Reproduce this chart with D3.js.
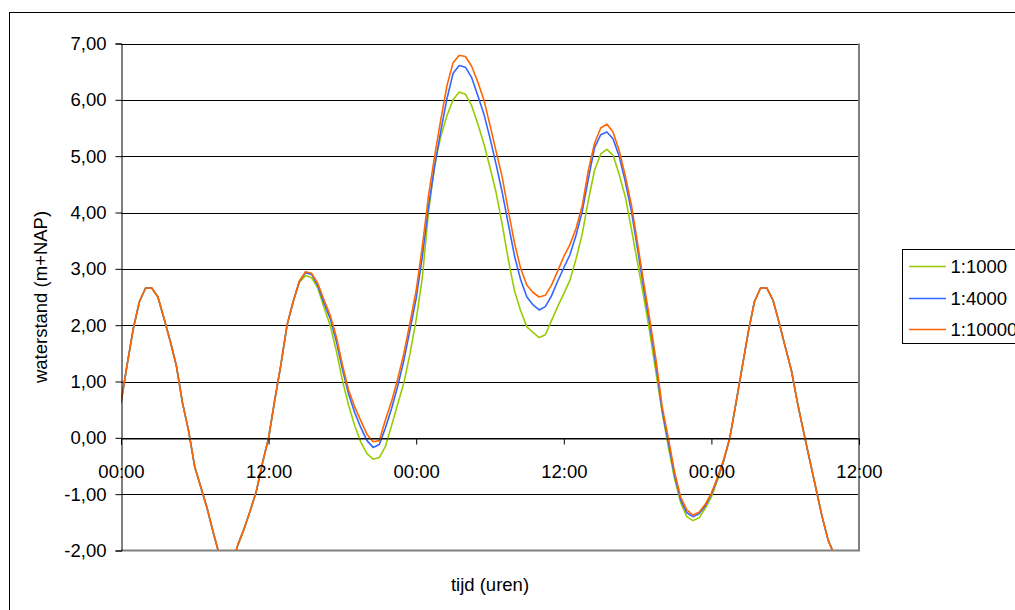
<!DOCTYPE html>
<html><head><meta charset="utf-8">
<script src="https://cdn.jsdelivr.net/npm/d3@7"></script>
<style>body{margin:0;background:#fff;overflow:hidden} svg{display:block}</style>
</head><body><svg id="c" width="1015" height="610"></svg>
<script>
// ---- data ----
const hours = [0,0.5,1,1.5,2,2.5,3,3.5,4,4.5,5,5.5,6,6.5,7,7.5,8,8.5,9,9.5,10,10.5,11,11.5,12,12.5,13,13.5,14,14.5,
15,15.5,16,16.5,17,17.5,18,18.5,19,19.5,20,20.5,21,21.5,22,22.5,23,23.5,24,24.5,25,25.5,26,26.5,27,27.5,28,28.5,29,29.5,
30,30.5,31,31.5,32,32.5,33,33.5,34,34.5,35,35.5,36,36.5,37,37.5,38,38.5,39,39.5,40,40.5,41,41.5,42,42.5,43,43.5,44,44.5,
45,45.5,46,46.5,47,47.5,48,48.5,49,49.5,50,50.5,51,51.5,52,52.5,53,53.5,54,54.5,55,55.5,56,56.5,57,57.5,58,58.5];

const seriesNames = ["1:1000","1:4000","1:10000"];

const s1000 = [0.62,1.30,1.94,2.42,2.66,2.66,2.50,2.12,1.72,1.28,0.62,0.12,-0.52,-0.88,-1.25,-1.68,-2.08,-2.30,-2.25,-1.90,-1.62,-1.30,-0.95,-0.45,0.00,0.67,1.30,2.00,2.42,2.76,
2.88,2.84,2.66,2.32,2.00,1.55,1.02,0.58,0.22,-0.08,-0.28,-0.38,-0.35,-0.15,0.22,0.60,0.98,1.50,2.10,2.85,4.00,4.85,5.35,5.72,6.00,6.14,6.10,5.90,5.58,5.22,
4.80,4.35,3.78,3.15,2.60,2.25,1.97,1.87,1.78,1.83,2.08,2.33,2.56,2.80,3.18,3.62,4.22,4.75,5.04,5.12,5.02,4.68,4.28,3.70,3.10,2.50,1.86,1.15,0.45,-0.16,
-0.72,-1.15,-1.40,-1.47,-1.42,-1.25,-1.05,-0.75,-0.42,0.00,0.62,1.25,1.88,2.42,2.66,2.66,2.45,2.05,1.62,1.20,0.62,0.10,-0.40,-0.90,-1.40,-1.82,-2.08,-2.30];

const s4000 = [0.62,1.30,1.94,2.42,2.66,2.66,2.50,2.12,1.72,1.28,0.62,0.12,-0.52,-0.88,-1.25,-1.68,-2.08,-2.30,-2.25,-1.90,-1.62,-1.30,-0.95,-0.45,0.00,0.67,1.30,2.00,2.42,2.78,
2.93,2.90,2.70,2.40,2.12,1.72,1.22,0.78,0.45,0.18,-0.05,-0.17,-0.12,0.18,0.52,0.92,1.38,1.92,2.48,3.22,4.10,4.82,5.45,6.02,6.47,6.61,6.58,6.40,6.08,5.75,
5.32,4.85,4.35,3.78,3.22,2.80,2.50,2.36,2.27,2.33,2.52,2.78,3.02,3.25,3.60,4.02,4.60,5.15,5.38,5.43,5.31,5.00,4.55,4.02,3.35,2.65,2.00,1.28,0.48,-0.08,
-0.66,-1.10,-1.33,-1.40,-1.35,-1.21,-1.00,-0.72,-0.40,0.00,0.62,1.25,1.88,2.42,2.66,2.66,2.45,2.05,1.62,1.20,0.62,0.10,-0.40,-0.90,-1.40,-1.82,-2.08,-2.30];

const s10000 = [0.62,1.30,1.94,2.42,2.66,2.66,2.50,2.12,1.72,1.28,0.62,0.12,-0.52,-0.88,-1.25,-1.68,-2.08,-2.30,-2.25,-1.90,-1.62,-1.30,-0.95,-0.45,0.00,0.67,1.30,2.00,2.42,2.78,
2.95,2.92,2.74,2.45,2.18,1.80,1.30,0.85,0.55,0.30,0.06,-0.07,-0.05,0.32,0.65,1.05,1.50,2.05,2.62,3.40,4.30,5.00,5.65,6.25,6.66,6.79,6.77,6.60,6.32,6.00,
5.55,5.08,4.62,4.02,3.45,3.00,2.71,2.58,2.50,2.53,2.71,2.96,3.22,3.43,3.72,4.12,4.75,5.23,5.50,5.57,5.43,5.10,4.65,4.13,3.45,2.75,2.09,1.38,0.55,0.00,
-0.60,-1.05,-1.28,-1.37,-1.32,-1.18,-0.98,-0.70,-0.38,0.00,0.62,1.25,1.88,2.42,2.66,2.66,2.45,2.05,1.62,1.20,0.62,0.10,-0.40,-0.90,-1.40,-1.82,-2.08,-2.30];

const yTicks = [-2,-1,0,1,2,3,4,5,6,7];
const xTicks = [0,12,24,36,48,60];
const xTickLabels = ["00:00","12:00","00:00","12:00","00:00","12:00"];
const colors = ["#99CC00","#3366FF","#FF6600"];
const yTitle = "waterstand (m+NAP)";
const xTitle = "tijd (uren)";

// ---- layout ----
const FONT = "'Liberation Sans', Arial, sans-serif";
const FS = 18.5;
const L = 121, R = 859, T = 43.5, B = 550.5;
const svg = d3.select("#c");
const x = d3.scaleLinear().domain([0, 60]).range([L, R]);
const y = d3.scaleLinear().domain([-2, 7]).range([B, T]);
const loc = d3.formatLocale({decimal: ",", thousands: ".", grouping: [3], currency: ["", ""], minus: "-"});
const fmt = loc.format(".2f");

// outer chart frame
svg.append("rect").attr("x", 9.5).attr("y", 12.5).attr("width", 1100).attr("height", 700)
  .attr("fill", "#fff").attr("stroke", "#000").attr("stroke-width", 1);

// plot area
svg.append("rect").attr("x", L).attr("y", T).attr("width", R - L).attr("height", B - T)
  .attr("fill", "#fff");

// gridlines
svg.append("g").selectAll("line").data(yTicks.filter(d => d !== -2)).join("line")
  .attr("x1", L).attr("x2", R)
  .attr("y1", d => Math.round(y(d)) + 0.5).attr("y2", d => Math.round(y(d)) + 0.5)
  .attr("stroke", "#000").attr("stroke-width", 1);

// plot border (right & bottom grey)
svg.append("path")
  .attr("d", `M${R},${T} L${R},${B} L${L},${B}`)
  .attr("fill", "none").attr("stroke", "#808080").attr("stroke-width", 2);

// series
svg.append("defs").append("clipPath").attr("id", "clip")
  .append("rect").attr("x", L).attr("y", T - 1).attr("width", R - L).attr("height", B - T + 1);
const line = d3.line().x((d, i) => x(hours[i])).y(d => y(d));
const allSeries = [s1000, s4000, s10000];
svg.append("g").attr("clip-path", "url(#clip)").selectAll("path").data(allSeries).join("path")
  .attr("d", d => line(d)).attr("fill", "none")
  .attr("stroke", (d, i) => colors[i]).attr("stroke-width", 1.6).attr("stroke-linejoin", "round");

// y axis
const yAxis = d3.axisLeft(y).tickValues(yTicks).tickSize(6).tickPadding(9).tickFormat(d => fmt(d));
const gy = svg.append("g").attr("transform", `translate(${L + 0.5},0)`).call(yAxis);
gy.select(".domain").attr("stroke", "#000");
gy.selectAll(".tick line").attr("stroke", "#000");
gy.selectAll(".tick text").attr("font-family", FONT).attr("font-size", FS).attr("fill", "#000");

// x axis at y = 0
const xAxis = d3.axisBottom(x).tickValues(xTicks).tickSize(6).tickPadding(20)
  .tickFormat((d, i) => xTickLabels[i]);
const gx = svg.append("g").attr("transform", `translate(0,${Math.round(y(0)) + 0.5})`).call(xAxis);
gx.select(".domain").attr("stroke", "#000");
gx.selectAll(".tick line").attr("stroke", "#000");
gx.selectAll(".tick text").attr("font-family", FONT).attr("font-size", FS).attr("fill", "#000");

// titles
svg.append("text").attr("transform", `translate(47,${(T + B) / 2}) rotate(-90)`)
  .attr("text-anchor", "middle").attr("font-family", FONT).attr("font-size", FS).text(yTitle);
svg.append("text").attr("x", (L + R) / 2).attr("y", 591)
  .attr("text-anchor", "middle").attr("font-family", FONT).attr("font-size", FS).text(xTitle);

// legend
const lg = svg.append("g");
lg.append("rect").attr("x", 902.5).attr("y", 249.5).attr("width", 200).attr("height", 94)
  .attr("fill", "#fff").attr("stroke", "#000");
const rows = [266.5, 298.5, 329.5];
seriesNames.forEach((n, i) => {
  lg.append("line").attr("x1", 909).attr("x2", 946).attr("y1", rows[i]).attr("y2", rows[i])
    .attr("stroke", colors[i]).attr("stroke-width", 1.6);
  lg.append("text").attr("x", 950.5).attr("y", rows[i] + 6.5)
    .attr("font-family", FONT).attr("font-size", FS).text(n);
});
</script></body></html>
